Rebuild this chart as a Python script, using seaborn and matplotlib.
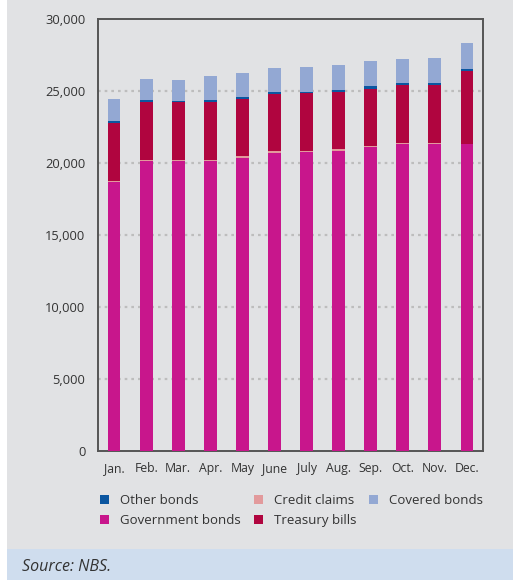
import matplotlib
matplotlib.use("Agg")
import matplotlib.pyplot as plt
from matplotlib.patches import Patch, Rectangle
from matplotlib.ticker import FuncFormatter, MultipleLocator, FixedLocator
import numpy as np
import pandas as pd
import seaborn as sns

months = ["Jan.", "Feb.", "Mar.", "Apr.", "May", "June", "July",
          "Aug.", "Sep.", "Oct.", "Nov.", "Dec."]

# Eligible collateral by type (EUR millions), stacked bottom to top
government_bonds = [18660, 20140, 20140, 20140, 20350, 20690, 20760, 20830, 21110, 21320, 21320, 21310]
credit_claims    = [90, 90, 90, 90, 140, 140, 70, 140, 70, 70, 70, 20]
treasury_bills   = [4000, 4006, 4006, 4006, 3934, 3960, 4028, 3960, 3958, 4028, 4028, 5060]
other_bonds      = [165, 140, 70, 140, 160, 140, 70, 140, 208, 139, 139, 140]
covered_bonds    = [1530, 1460, 1460, 1667, 1670, 1670, 1736, 1737, 1736, 1666, 1736, 1800]

series = [
    ("Government bonds", government_bonds, "#C8168C"),
    ("Credit claims", credit_claims, "#E29A9C"),
    ("Treasury bills", treasury_bills, "#B0053F"),
    ("Other bonds", other_bonds, "#0B56A0"),
    ("Covered bonds", covered_bonds, "#93A8D3"),
]

sns.set_theme(style="white")
plt.rcParams["font.family"] = ["Open Sans", "DejaVu Sans"]

W, H = 513, 580
fig = plt.figure(figsize=(W / 100, H / 100), dpi=100, facecolor="white")

# Panel backgrounds
fig.patches.append(Rectangle((7 / W, 31 / H), 1 - 7 / W, 1 - 31 / H,
                             transform=fig.transFigure, facecolor="#E1E2E4",
                             edgecolor="none", zorder=-10))
fig.patches.append(Rectangle((7 / W, 0), 1 - 7 / W, 31 / H,
                             transform=fig.transFigure, facecolor="#CFDDEE",
                             edgecolor="none", zorder=-10))

ax = fig.add_axes([98 / W, 1 - 451 / H, (483 - 98) / W, (451 - 19) / H])
ax.set_facecolor("#E1E2E4")

# Draw cumulative totals from the top layer down so each layer overlays the next
cum = np.cumsum(np.array([s[1] for s in series], dtype=float), axis=0)
for i in range(len(series) - 1, -1, -1):
    df = pd.DataFrame({"month": months, "value": cum[i]})
    sns.barplot(data=df, x="month", y="value", color=series[i][2],
                saturation=1, width=0.4, ax=ax, zorder=3, linewidth=0)

ax.set_xlim(-0.5, 11.5)
ax.set_ylim(0, 30000)
ax.set_xlabel("")
ax.set_ylabel("")

ax.yaxis.set_major_locator(MultipleLocator(5000))
ax.yaxis.set_major_formatter(FuncFormatter(lambda v, p: f"{int(v):,}"))
for yv in range(5000, 30000, 5000):
    ax.axhline(yv, color="#BDBDBD", lw=1.6, ls=(0, (1.2, 1.8)), zorder=1)

ax.xaxis.set_minor_locator(FixedLocator(np.arange(-0.5, 12, 1.0)))
ax.tick_params(axis="x", which="major", length=0, pad=8, labelsize=8.8,
               labelcolor="#333333")
ax.tick_params(axis="x", which="minor", length=5, width=1.2, color="#555555",
               direction="out")
ax.tick_params(axis="y", which="major", length=6, width=1.2, color="#555555",
               direction="out", labelsize=9.3, labelcolor="#333333", pad=3)

for side in ["left", "right", "top", "bottom"]:
    ax.spines[side].set_visible(True)
    ax.spines[side].set_color("#555555")
    ax.spines[side].set_linewidth(1.4)

legend_order = [3, 0, 1, 2, 4]
handles = [Patch(facecolor=series[i][2], edgecolor="none") for i in legend_order]
labels = [series[i][0] for i in legend_order]
fig.legend(handles, labels, loc="upper left", ncol=3,
           bbox_to_anchor=(100 / W, 1 - 494 / H), frameon=False,
           fontsize=9.5, handlelength=0.7, handleheight=0.7,
           handletextpad=0.8, columnspacing=1.0, labelspacing=0.55,
           labelcolor="#333333", borderaxespad=0, borderpad=0)

fig.text(22 / W, 9 / H, "Source: NBS.", fontsize=11.5, style="italic",
         color="#333333", ha="left", va="baseline")

fig.savefig("out.png", dpi=100, facecolor=fig.get_facecolor())
